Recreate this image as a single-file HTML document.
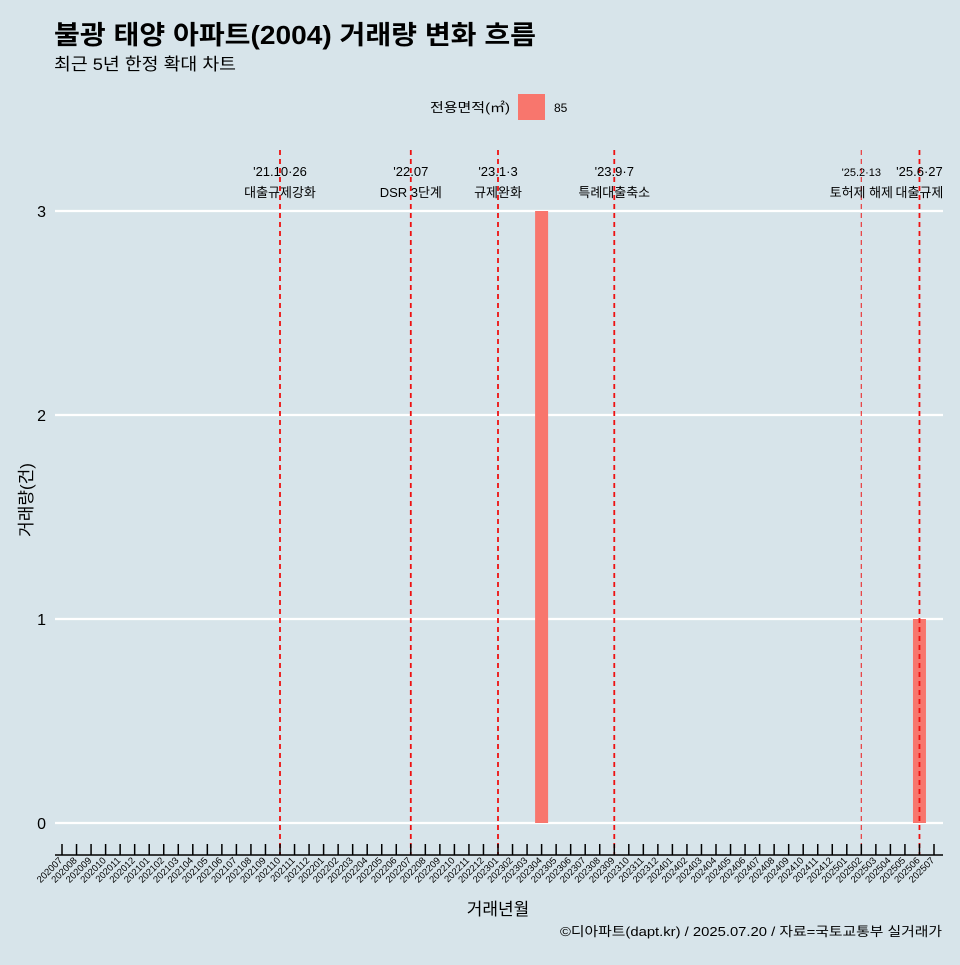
<!DOCTYPE html>
<html><head><meta charset="utf-8"><style>
body{margin:0;background:#d7e4ea;font-family:"Liberation Sans","Noto Sans CJK KR",sans-serif}
</style></head><body>
<svg width="960" height="960" xmlns="http://www.w3.org/2000/svg" style="font-family:'Liberation Sans','Noto Sans CJK KR',sans-serif">
<rect width="960" height="960" fill="#d7e4ea"/>
<text x="54" y="44" font-size="26" font-weight="bold" textLength="482" lengthAdjust="spacingAndGlyphs">불광 태양 아파트(2004) 거래량 변화 흐름</text>
<text x="54" y="70" font-size="17" textLength="182" lengthAdjust="spacingAndGlyphs">최근 5년 한정 확대 차트</text>
<text x="510" y="112" font-size="13" text-anchor="end" textLength="80" lengthAdjust="spacingAndGlyphs">전용면적(㎡)</text>
<rect x="518" y="94" width="27" height="26" fill="#f8766d"/>
<text x="554" y="112" font-size="12">85</text>
<defs><clipPath id="pc"><rect x="0" y="140" width="943" height="720"/></clipPath></defs>
<g id="grid"></g><g id="bars"></g><g id="events" clip-path="url(#pc)"></g><g id="xaxis"></g>
<text x="32" y="500" font-size="17" text-anchor="middle" transform="rotate(-90 32 500)">거래량(건)</text>
<text x="498" y="915" font-size="17" text-anchor="middle">거래년월</text>
<text x="942" y="936" font-size="13" text-anchor="end" textLength="382" lengthAdjust="spacingAndGlyphs">©디아파트(dapt.kr) / 2025.07.20 / 자료=국토교통부 실거래가</text>
</svg>
<script>
const barMonths=["202304","202506"];
const barValues=[3,1];
const yTicks=[0,1,2,3];
const eventMonths=["202110","202207","202301","202309","202502","202506"];
const eventDates=["'21.10·26","'22.07","'23.1·3","'23.9·7","'25.2·13","'25.6·27"];
const eventLabels=["대출규제강화","DSR 3단계","규제완화","특례대출축소","토허제 해제","대출규제"];
const months=[];
for(let y=2020;y<=2025;y++)for(let m=1;m<=12;m++){const s=""+y+(m<10?"0":"")+m;if(s>="202007"&&s<="202507")months.push(s);}
const NS="http://www.w3.org/2000/svg";
const x0=62,dx=(934-62)/(months.length-1);
const X=s=>x0+months.indexOf(s)*dx;
const Y=v=>823-v*204;
function mk(t,a,p,txt){const e=document.createElementNS(NS,t);for(const k in a)e.setAttribute(k,a[k]);if(txt!==undefined)e.textContent=txt;p.appendChild(e);return e;}
const G=document.getElementById('grid'),B=document.getElementById('bars'),E=document.getElementById('events'),XA=document.getElementById('xaxis');
yTicks.forEach(v=>{const l=mk('line',{x1:55,x2:943,y1:Y(v),y2:Y(v),stroke:'#fff','stroke-width':2.2},G);

const t=mk('text',{x:46,y:Y(v)+6,'font-size':16,'text-anchor':'end'},G,String(v));
});
barMonths.forEach((m,i)=>{const r=mk('rect',{x:X(m)-6.5,width:13,y:Y(barValues[i]),height:Y(0)-Y(barValues[i]),fill:'#f8766d'},B);
});
eventMonths.forEach((m,i)=>{const x=X(m);const l=mk('line',{x1:x,x2:x,y1:150,y2:855,stroke:'#ee1111','stroke-width':i==4?1.3:1.8,'stroke-dasharray':'5,4','stroke-opacity':i==4?0.75:1},E);

const a=mk('text',{x:x,y:176,'font-size':i==4?11:13,'text-anchor':'middle'},E,eventDates[i]);

const b=mk('text',{x:x,y:197,'font-size':13,'text-anchor':'middle'},E,eventLabels[i]);
});
const ax=mk('line',{x1:55,x2:943,y1:855,y2:855,stroke:'#000','stroke-width':1.5},XA);

months.forEach(m=>{const x=X(m);const t=mk('line',{x1:x,x2:x,y1:844,y2:855,stroke:'#000','stroke-width':1.5},XA);

const l=mk('text',{x:x+1,y:861,'font-size':9.5,'text-anchor':'end',transform:`rotate(-45 ${x+1} 861)`},XA,m);
});
</script>
</body></html>
